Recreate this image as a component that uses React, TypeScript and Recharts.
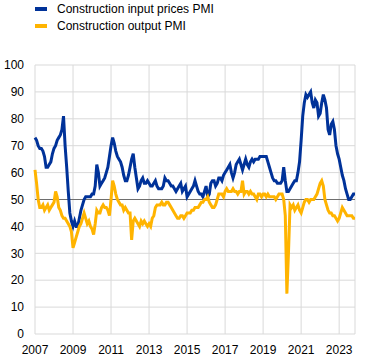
import { LineChart, Line, XAxis, YAxis, CartesianGrid, ReferenceLine } from "recharts";

// monthly, Jan 2007 - Nov 2023
const startYear = 2007;

const inputPrices = [
  73, 72, 70, 69, 69, 68, 66, 62, 62, 63, 64, 67, // 2007
  69, 70, 72, 73, 74, 76, 81, 70, 62, 53, 45, 42, // 2008
  40, 42, 40, 40, 43, 46, 48, 50, 51, 51, 51, 51, // 2009
  52, 52, 55, 63, 60, 55, 56, 57, 58, 60, 62, 66, // 2010
  70, 73, 71, 68, 66, 65, 64, 62, 59, 57, 57, 59, // 2011
  62, 65, 67, 62, 58, 54, 55, 57, 58, 56, 56, 57, // 2012
  56, 55, 55, 56, 57, 55, 54, 54, 54, 55, 58, 57, // 2013
  57, 56, 55, 55, 54, 53, 54, 55, 56, 53, 54, 55, // 2014
  51, 52, 53, 54, 55, 57, 55, 53, 52, 52, 51, 53, // 2015
  55, 51, 52, 56, 57, 57, 55, 56, 58, 58, 57, 59, // 2016
  60, 61, 62, 63, 60, 58, 60, 63, 64, 65, 63, 61, // 2017
  63, 65, 63, 62, 64, 65, 64, 65, 65, 65, 66, 66, // 2018
  66, 66, 66, 64, 62, 60, 58, 57, 57, 56, 56, 56, // 2019
  57, 62, 57, 53, 53, 54, 55, 56, 57, 57, 60, 64, // 2020
  72, 81, 86, 89, 88, 89, 90, 86, 84, 87, 86, 81, // 2021
  82, 86, 89, 87, 84, 76, 74, 78, 79, 76, 70, 67, // 2022
  65, 62, 59, 57, 54, 52, 50, 50, 51, 52, 52, // 2023
];

const outputPmi = [
  61, 56, 50, 47, 47, 48, 46, 47, 48, 46, 47, 48, // 2007
  49, 53, 51, 47, 46, 44, 43, 43, 42, 41, 40, 38, // 2008
  32, 34, 36, 38, 40, 41, 43, 45, 43, 41, 42, 40, // 2009
  39, 37, 41, 46, 45, 45, 47, 48, 47, 47, 46, 44, // 2010
  50, 57, 55, 52, 50, 49, 48, 48, 46, 47, 46, 45, // 2011
  45, 35, 42, 43, 42, 41, 40, 42, 41, 42, 41, 40, // 2012
  41, 40, 43, 44, 47, 48, 48, 48, 49, 48, 48, 49, // 2013
  49, 48, 47, 46, 45, 44, 43, 43, 44, 44, 43, 44, // 2014
  45, 45, 45, 46, 46, 47, 47, 47, 48, 49, 49, 50, // 2015
  50, 51, 49, 48, 47, 47, 48, 50, 52, 52, 52, 51, // 2016
  53, 54, 53, 53, 53, 54, 53, 53, 52, 53, 53, 57, // 2017
  52, 53, 53, 52, 53, 52, 52, 51, 50, 52, 52, 51, // 2018
  52, 52, 51, 52, 51, 51, 51, 51, 50, 51, 52, 52, // 2019
  52, 50, 44, 15, 30, 48, 47, 48, 46, 47, 48, 46, // 2020
  45, 47, 49, 50, 50, 49, 50, 50, 50, 51, 52, 54, // 2021
  56, 57, 55, 50, 48, 46, 45, 45, 44, 44, 43, 42, // 2022
  43, 45, 47, 46, 45, 44, 44, 44, 44, 43, 43, // 2023
];

const yearTicks = [2007, 2009, 2011, 2013, 2015, 2017, 2019, 2021, 2023];
const valueTicks = [0, 10, 20, 30, 40, 50, 60, 70, 80, 90, 100];
const seriesNames = ["Construction input prices PMI", "Construction output PMI"];

const BLUE = "#003299";
const YELLOW = "#ffb400";
const FONT = "'Liberation Sans', Arial, sans-serif";

const data = inputPrices.map((v, i) => ({
  t: startYear + i / 12,
  input: v,
  output: outputPmi[i],
}));
const lastT = data[data.length - 1].t;

export default function App() {
  return (
    <div style={{ position: "absolute", left: 0, top: 0, width: 372, height: 362, background: "#fff", fontFamily: FONT }}>
      <div style={{ position: "absolute", left: 35, top: 0 }}>
        {seriesNames.map((name, i) => (
          <div key={name} style={{ position: "absolute", left: 0, top: 2 + i * 17, height: 14, whiteSpace: "nowrap", display: "flex", alignItems: "center" }}>
            <span style={{ display: "inline-block", width: 12, height: 4, background: i === 0 ? BLUE : YELLOW, marginRight: 10 }} />
            <span style={{ fontSize: 12, color: "#000", lineHeight: "14px" }}>{name}</span>
          </div>
        ))}
      </div>
      <LineChart width={372} height={362} data={data} margin={{ top: 65, right: 17, bottom: 0, left: 0 }} style={{ position: "absolute", left: 0, top: 0 }}>
        <CartesianGrid stroke="#d9d9d9" strokeWidth={1} />
        <XAxis
          dataKey="t"
          type="number"
          domain={[startYear, lastT]}
          ticks={yearTicks}
          interval={0}
          height={28}
          tickSize={0}
          tickMargin={11}
          axisLine={false}
          tickLine={false}
          tick={{ fontSize: 12, fill: "#000", fontFamily: FONT }}
        />
        <YAxis
          domain={[0, 100]}
          ticks={valueTicks}
          interval={0}
          width={35}
          tickSize={0}
          tickMargin={11}
          axisLine={false}
          tickLine={false}
          tick={{ fontSize: 12, fill: "#000", fontFamily: FONT }}
        />
        <ReferenceLine y={50} stroke="#6e6e6e" strokeWidth={1.2} />
        <Line type="linear" dataKey="input" stroke={BLUE} strokeWidth={3} dot={false} isAnimationActive={false} />
        <Line type="linear" dataKey="output" stroke={YELLOW} strokeWidth={3} dot={false} isAnimationActive={false} />
      </LineChart>
    </div>
  );
}
